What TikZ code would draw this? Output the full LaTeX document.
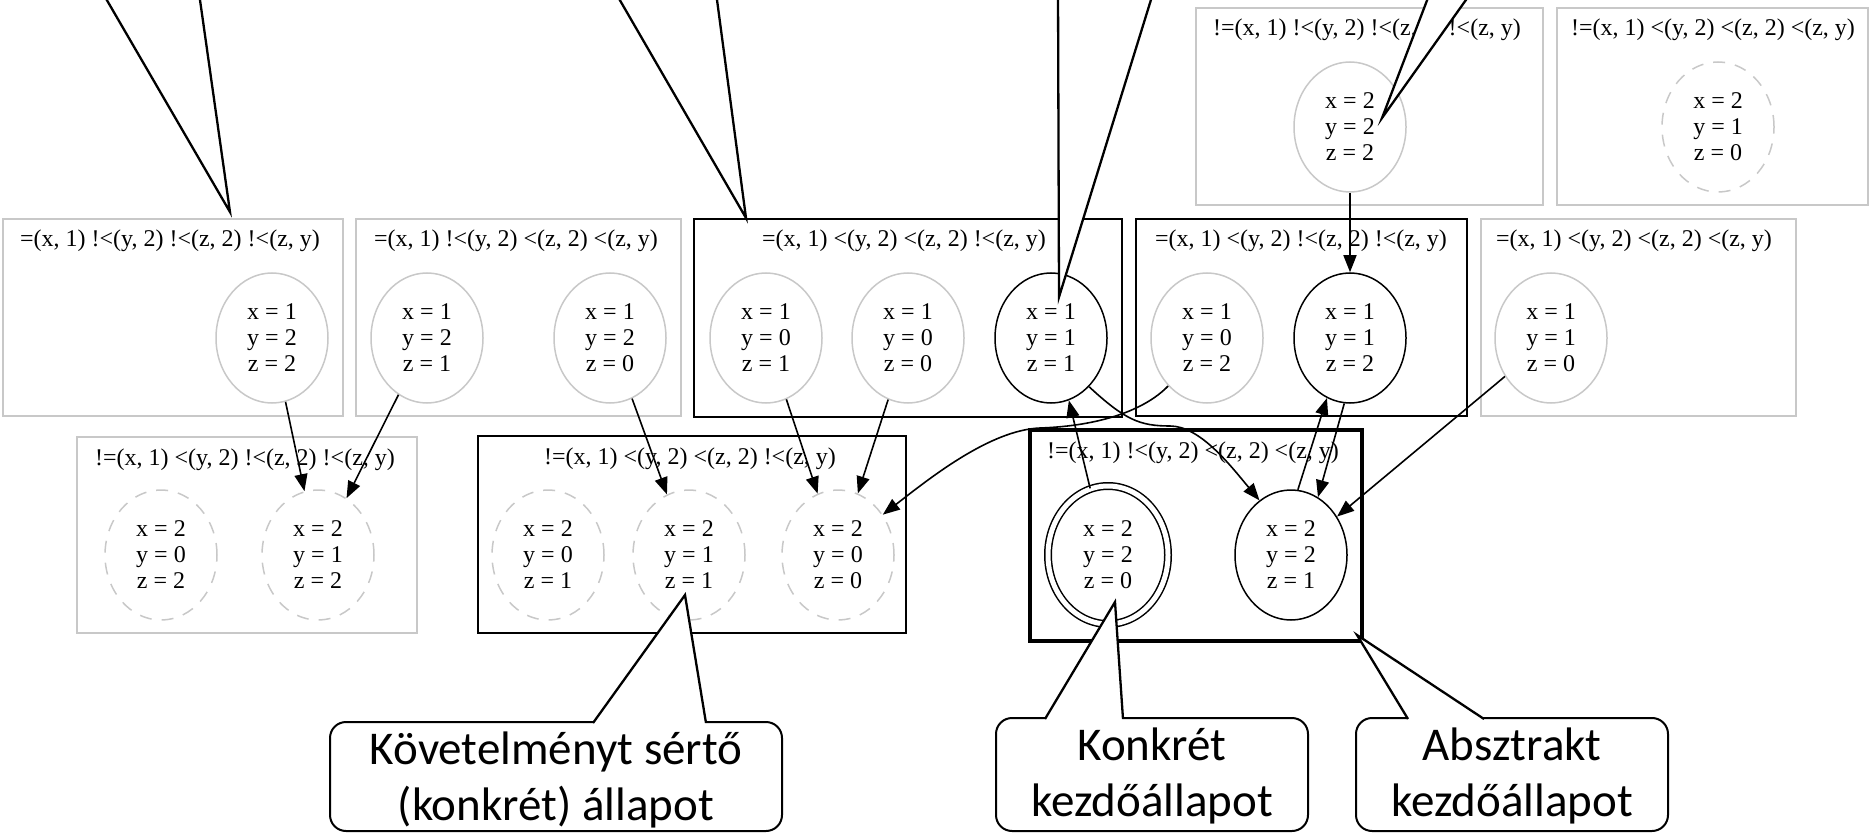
\documentclass[tikz,border=0pt]{standalone}
\usepackage{fontspec}
\setmainfont{Liberation Serif}
\newfontfamily\carl{Carlito}
\usetikzlibrary{shapes.geometric,arrows.meta}
\definecolor{lgray}{RGB}{200,200,200}
\newcommand{\stfont}{\fontsize{12}{13}\selectfont}
\newcommand{\lbfont}{\fontsize{12}{13}\selectfont}
\newcommand{\clfont}{\carl\fontsize{23.5}{28}\selectfont}
\begin{document}
\begin{tikzpicture}[x=0.5pt,y=-0.5pt,
  gbox/.style={draw=lgray,line width=1pt},
  bbox/.style={draw=black,line width=1pt},
  ibox/.style={draw=black,line width=1.8pt},
  st/.style={ellipse,minimum width=56pt,minimum height=65pt,inner sep=0pt,align=center,font=\stfont,line width=0.75pt},
  gst/.style={st,draw=lgray},
  bst/.style={st,draw=black},
  dst/.style={st,draw=lgray,dash pattern=on 6pt off 5pt},
  ist/.style={st,draw=black,minimum width=60pt,minimum height=69pt,double,double distance=2.5pt},
  clab/.style={anchor=base,font=\lbfont,inner sep=0pt},
  edge/.style={line width=0.8pt,-{Triangle[length=8.5pt,width=6.5pt]}},
  callout/.style={draw,line width=1pt,fill=white,rounded corners=8pt,inner sep=0pt},
  cltext/.style={font=\clfont,align=center,inner sep=0pt},
  tail/.style={line width=1.15pt}]
\useasboundingbox (0,0) rectangle (1874,834);
\clip (0,0) rectangle (1874,834);

% clusters
\draw[gbox] (1196,8) rectangle (1543,205);
\draw[gbox] (1557,8) rectangle (1868,205);
\draw[gbox] (3,219) rectangle (343,416);
\draw[gbox] (356,219) rectangle (681,416);
\draw[bbox] (694,219) rectangle (1122,417);
\draw[bbox] (1136,219) rectangle (1467,416);
\draw[gbox] (1481,219) rectangle (1796,416);
\draw[gbox] (77,437) rectangle (417,633);
\draw[bbox] (478,436) rectangle (906,633);
\draw[ibox] (1030,430) rectangle (1362,641);

% cluster labels
\node[clab] (lT1) at (1367,36) {!=(x, 1) !<(y, 2) !<(z, 2) !<(z, y)};
\node[clab] (lT2) at (1713,36) {!=(x, 1) <(y, 2) <(z, 2) <(z, y)};
\node[clab] (lA) at (170,247) {=(x, 1) !<(y, 2) !<(z, 2) !<(z, y)};
\node[clab] (lB) at (516,247) {=(x, 1) !<(y, 2) <(z, 2) <(z, y)};
\node[clab] (lC) at (904,247) {=(x, 1) <(y, 2) <(z, 2) !<(z, y)};
\node[clab] (lE) at (1301,247) {=(x, 1) <(y, 2) !<(z, 2) !<(z, y)};
\node[clab] (lF) at (1634,247) {=(x, 1) <(y, 2) <(z, 2) <(z, y)};
\node[clab] (lD) at (245,465) {!=(x, 1) <(y, 2) !<(z, 2) !<(z, y)};
\node[clab] (lG) at (690,464) {!=(x, 1) <(y, 2) <(z, 2) !<(z, y)};
\node[clab] (lH) at (1193,458) {!=(x, 1) !<(y, 2) <(z, 2) <(z, y)};

% states
\node[gst] (T1) at (1350,127) {x = 2\\y = 2\\z = 2};
\node[dst] (T2) at (1718,127) {x = 2\\y = 1\\z = 0};
\node[gst] (A1) at (272,338) {x = 1\\y = 2\\z = 2};
\node[gst] (B1) at (427,338) {x = 1\\y = 2\\z = 1};
\node[gst] (B2) at (610,338) {x = 1\\y = 2\\z = 0};
\node[gst] (C1) at (766,338) {x = 1\\y = 0\\z = 1};
\node[gst] (C2) at (908,338) {x = 1\\y = 0\\z = 0};
\node[bst] (C3) at (1051,338) {x = 1\\y = 1\\z = 1};
\node[gst] (E1) at (1207,338) {x = 1\\y = 0\\z = 2};
\node[bst] (E2) at (1350,338) {x = 1\\y = 1\\z = 2};
\node[gst] (F1) at (1551,338) {x = 1\\y = 1\\z = 0};
\node[dst] (D1) at (161,555) {x = 2\\y = 0\\z = 2};
\node[dst] (D2) at (318,555) {x = 2\\y = 1\\z = 2};
\node[dst] (G1) at (548,555) {x = 2\\y = 0\\z = 1};
\node[dst] (G2) at (689,555) {x = 2\\y = 1\\z = 1};
\node[dst] (G3) at (838,555) {x = 2\\y = 0\\z = 0};
\node[ist] (H1) at (1108,555) {x = 2\\y = 2\\z = 0};
\node[bst] (H2) at (1291,555) {x = 2\\y = 2\\z = 1};

% edges
\draw[edge] (A1) -- (D2);
\draw[edge] (B1) -- (D2);
\draw[edge] (B2) -- (G2);
\draw[edge] (C1) -- (G3);
\draw[edge] (C2) -- (G3);
\draw[edge] (T1) -- (E2);
\draw[edge] (F1) -- (H2);
\draw[edge] (H1.105) -- (C3.286);
\draw[edge] (H2.84) -- (E2.249);
\draw[edge] (E2.265) -- (H2.65);
\draw[edge] (C3.308) .. controls (1125,420) and (1140,426) .. (1170,426) .. controls (1200,426) and (1230,465) .. (H2.120);
\draw[edge] (E1.231) .. controls (1145,410) and (1100,426) .. (1040,428) .. controls (990,430) and (930,478) .. (G3.42);

% top callout tails (bodies above the picture)
\coordinate (t1) at (230,212);
\coordinate (t2) at (746,218);
\coordinate (t3) at (1059,297);
\coordinate (t4) at (1382,118);
\fill[white] (101,-10) -- (t1) -- (198.6,-10) -- cycle;
\draw[tail] (101,-10) -- (t1) -- (198.6,-10);
\fill[white] (614,-10) -- (t2) -- (715.7,-10) -- cycle;
\draw[tail] (614,-10) -- (t2) -- (715.7,-10);
\fill[white] (1058,-10) -- (t3) -- (1154,-10) -- cycle;
\draw[tail] (1058,-10) -- (t3) -- (1154,-10);
\fill[white] (1431,-10) -- (t4) -- (1473,-10) -- cycle;
\draw[tail] (1431,-10) -- (t4) -- (1473,-10);

% bottom callouts
\node[callout,minimum width=226pt,minimum height=54.5pt] (kov) at (556,776.5) {};
\node[callout,minimum width=156pt,minimum height=56.5pt] (kon) at (1152,774.5) {};
\node[callout,minimum width=156pt,minimum height=56.5pt] (abs) at (1512,774.5) {};
\coordinate (kt) at (685,595);
\coordinate (nt) at (1115,602);
\coordinate (at) at (1357,635);
\fill[white] (593,724) -- (kt) -- (706,724) -- cycle;
\draw[tail] (593,723) -- (kt) -- (706,723);
\fill[white] (1045,720) -- (nt) -- (1123,720) -- cycle;
\draw[tail] (1045,719) -- (nt) -- (1123,719);
\fill[white] (1408,720) -- (at) -- (1484,720) -- cycle;
\draw[tail] (1408,719) -- (at) -- (1484,719);
\node[cltext] (kovt) at (556,780) {Követelményt sértő\\(konkrét) állapot};
\node[cltext] (kont) at (1152,776) {Konkrét\\kezdőállapot};
\node[cltext] (abst) at (1512,776) {Absztrakt\\kezdőállapot};
\end{tikzpicture}
\end{document}
